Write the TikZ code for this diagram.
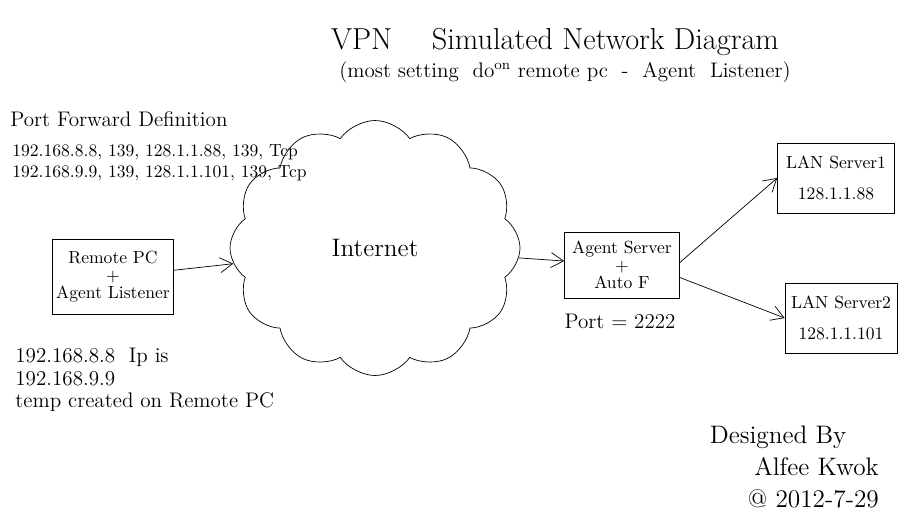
\documentclass[tikz,border=0pt]{standalone}
\usepackage{tikz}
\usetikzlibrary{shapes.geometric, shapes.symbols, arrows, arrows.meta, positioning}
\tikzstyle{box} = [
  rectangle,
  minimum width=2.2cm,
  minimum height=1.4cm,
  text centered,
  align=center,
  inner sep=2pt,
  draw=black
]
\tikzstyle{net} = [
  cloud,
  cloud puffs=12,
  cloud puff arc=110,
  aspect=1.15,
  minimum width=5.8cm,
  minimum height=5.1cm,
  draw=black,
  font=\Large
]
\tikzstyle{note} = [
  align=left,
  inner sep=0,
  anchor=north west
]
\tikzstyle{arrow} = [
  ->,
  >={Straight Barb[length=2.5mm,width=3mm]}
]

\begin{document}
\begin{tikzpicture}[node distance=2cm]
      \useasboundingbox (0,0) rectangle (18.4,-10.5);

      \node [font=\LARGE] (title) at (11.1,-0.84) {VPN \quad Simulated Network Diagram};
      \node [font=\large] (subtitle) at (11.3,-1.44) {(most setting \ do\textsuperscript{on} remote pc \ - \ Agent \ Listener)};

      \node [note, font=\large] (portdef) at (0.2,-2.22) {Port Forward Definition};
      \node [note, below right=0.35cm and 0.04cm of portdef.south west] (rules) {192.168.8.8, 139, 128.1.1.88, 139, Tcp\\192.168.9.9, 139, 128.1.1.101, 139, Tcp};

      \node [box, minimum height=1.5cm] (remote) at (2.26,-5.54) {Remote PC\\[-2pt]+\\[-2pt]Agent Listener};
      \node [net, right of=remote, xshift=3.24cm, yshift=0.58cm] (internet) {Internet};
      \node [box, minimum width=2.3cm, minimum height=1.32cm, right of=internet, xshift=2.94cm, yshift=-0.34cm] (agent) {Agent Server\\[-2pt]+\\[-2pt]Auto F};
      \node [below right=0.3cm and 0cm of agent.south west, font=\large, inner sep=0] (port) {Port = 2222};
      \node [box, minimum width=2.34cm, right of=agent, xshift=2.28cm, yshift=1.74cm] (lan1) {LAN Server1\\[6pt]128.1.1.88};
      \node [box, minimum width=2.24cm, right of=agent, xshift=2.38cm, yshift=-1.06cm] (lan2) {LAN Server2\\[6pt]128.1.1.101};

      \node [note, font=\large] (tempip) at (0.3,-6.95) {192.168.8.8 \ Ip is\\[-1pt]192.168.9.9\\[-1pt]temp created on Remote PC};
      \node [align=right, anchor=north east, font=\Large] (sign) at (17.7,-8.4) {Designed By\hspace*{0.65cm}\\Alfee Kwok\\@ 2012-7-29};

      \draw [arrow] (remote) -- (internet);
      \draw [arrow] (internet) -- (agent);
      \draw [arrow] ([yshift=0.05cm]agent.east) -- (lan1.west);
      \draw [arrow] ([yshift=-0.25cm]agent.east) -- (lan2.west);

    \end{tikzpicture}
\end{document}
